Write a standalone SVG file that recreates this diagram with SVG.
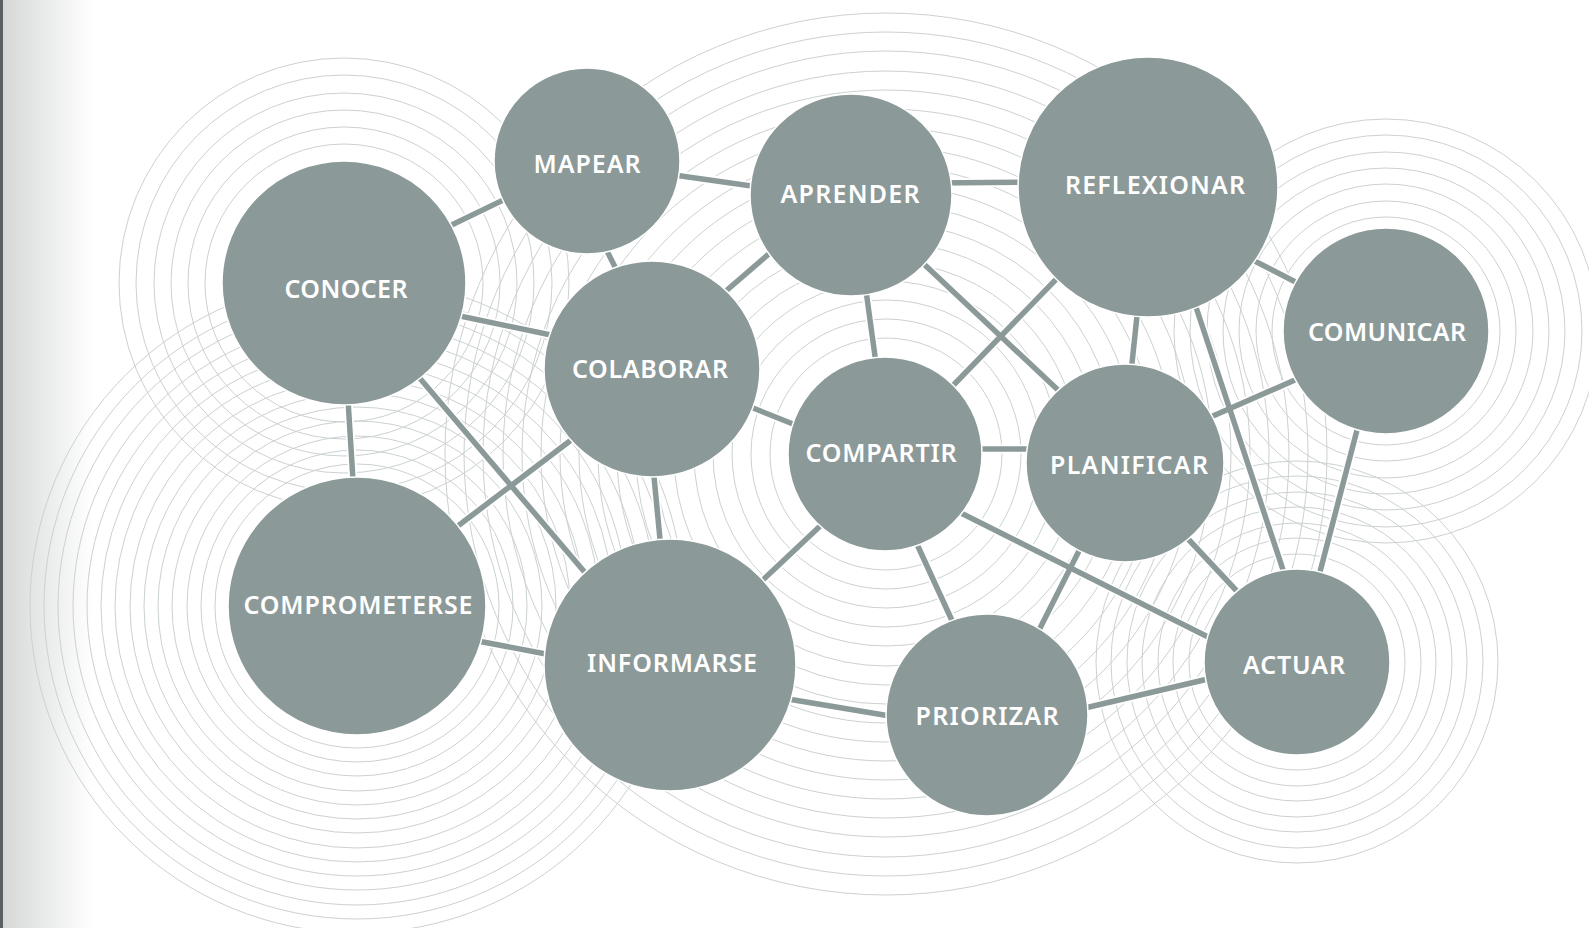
<svg xmlns="http://www.w3.org/2000/svg" width="1589" height="928" viewBox="0 0 1589 928">
<defs>
<linearGradient id="edge" x1="0" y1="0" x2="1" y2="0">
<stop offset="0" stop-color="#d6d8d8"/>
<stop offset="1" stop-color="#ffffff"/>
</linearGradient>
<style>
.ring{fill:none;stroke:#ccd1d1;stroke-width:1}
.case{stroke:#ffffff;stroke-width:9;stroke-linecap:butt}
.edge{stroke:#8c9999;stroke-width:5.5;stroke-linecap:butt}
.node circle{fill:#8c9999;stroke:#ffffff;stroke-width:1.5}
.node text{fill:#ffffff;font-family:"Noto Sans","Open Sans","Liberation Sans",sans-serif;font-weight:600;font-size:25px;text-anchor:middle}
</style>
</defs>
<rect x="0" y="0" width="1589" height="928" fill="#ffffff"/>
<rect x="3" y="0" width="90" height="928" fill="url(#edge)"/>
<rect x="0" y="0" width="3" height="928" fill="#5b6063"/>

<g id="rings">
<g id="rings-conocer">
<circle class="ring" cx="344" cy="283" r="139"/><circle class="ring" cx="344" cy="283" r="156"/><circle class="ring" cx="344" cy="283" r="173"/><circle class="ring" cx="344" cy="283" r="190"/><circle class="ring" cx="344" cy="283" r="208"/><circle class="ring" cx="344" cy="283" r="225"/>
</g>
<g id="rings-comprometerse">
<circle class="ring" cx="357" cy="606" r="142"/><circle class="ring" cx="357" cy="606" r="156"/><circle class="ring" cx="357" cy="606" r="170"/><circle class="ring" cx="357" cy="606" r="185"/><circle class="ring" cx="357" cy="606" r="199"/><circle class="ring" cx="357" cy="606" r="213"/><circle class="ring" cx="357" cy="606" r="227"/><circle class="ring" cx="357" cy="606" r="242"/><circle class="ring" cx="357" cy="606" r="256"/><circle class="ring" cx="357" cy="606" r="270"/><circle class="ring" cx="357" cy="606" r="284"/><circle class="ring" cx="357" cy="606" r="299"/><circle class="ring" cx="357" cy="606" r="313"/><circle class="ring" cx="357" cy="606" r="327"/>
</g>
<g id="rings-compartir">
<circle class="ring" cx="886" cy="454" r="116"/><circle class="ring" cx="886" cy="454" r="135"/><circle class="ring" cx="886" cy="454" r="154"/><circle class="ring" cx="886" cy="454" r="173"/><circle class="ring" cx="886" cy="454" r="192"/><circle class="ring" cx="886" cy="454" r="212"/><circle class="ring" cx="886" cy="454" r="231"/><circle class="ring" cx="886" cy="454" r="250"/><circle class="ring" cx="886" cy="454" r="269"/><circle class="ring" cx="886" cy="454" r="288"/><circle class="ring" cx="886" cy="454" r="307"/><circle class="ring" cx="886" cy="454" r="326"/><circle class="ring" cx="886" cy="454" r="345"/><circle class="ring" cx="886" cy="454" r="364"/><circle class="ring" cx="886" cy="454" r="383"/><circle class="ring" cx="886" cy="454" r="403"/><circle class="ring" cx="886" cy="454" r="422"/><circle class="ring" cx="886" cy="454" r="441"/>
</g>
<g id="rings-comunicar">
<circle class="ring" cx="1386" cy="331" r="114"/><circle class="ring" cx="1386" cy="331" r="130"/><circle class="ring" cx="1386" cy="331" r="147"/><circle class="ring" cx="1386" cy="331" r="163"/><circle class="ring" cx="1386" cy="331" r="179"/><circle class="ring" cx="1386" cy="331" r="196"/><circle class="ring" cx="1386" cy="331" r="212"/>
</g>
<g id="rings-actuar">
<circle class="ring" cx="1297" cy="662" r="108"/><circle class="ring" cx="1297" cy="662" r="124"/><circle class="ring" cx="1297" cy="662" r="139"/><circle class="ring" cx="1297" cy="662" r="155"/><circle class="ring" cx="1297" cy="662" r="170"/><circle class="ring" cx="1297" cy="662" r="186"/><circle class="ring" cx="1297" cy="662" r="201"/>
</g>
</g>

<g id="connectors">
<g id="casings">
<line class="case" x1="433" y1="234" x2="522" y2="191"/>
<line class="case" x1="660" y1="173" x2="773" y2="189"/>
<line class="case" x1="599" y1="235" x2="624" y2="285"/>
<line class="case" x1="933" y1="183" x2="1039" y2="182"/>
<line class="case" x1="712" y1="303" x2="785" y2="240"/>
<line class="case" x1="864" y1="276" x2="878" y2="378"/>
<line class="case" x1="910" y1="251" x2="1074" y2="405"/>
<line class="case" x1="1068" y1="267" x2="940" y2="399"/>
<line class="case" x1="1139" y1="297" x2="1130" y2="382"/>
<line class="case" x1="1239" y1="253" x2="1313" y2="291"/>
<line class="case" x1="1189" y1="286" x2="1291" y2="594"/>
<line class="case" x1="441" y1="312" x2="570" y2="339"/>
<line class="case" x1="347" y1="384" x2="354" y2="496"/>
<line class="case" x1="406" y1="362" x2="599" y2="589"/>
<line class="case" x1="583" y1="431" x2="446" y2="535"/>
<line class="case" x1="733" y1="400" x2="813" y2="432"/>
<line class="case" x1="652" y1="456" x2="662" y2="560"/>
<line class="case" x1="963" y1="449" x2="1047" y2="449"/>
<line class="case" x1="834" y1="513" x2="748" y2="594"/>
<line class="case" x1="910" y1="529" x2="960" y2="638"/>
<line class="case" x1="945" y1="505" x2="1226" y2="646"/>
<line class="case" x1="1197" y1="423" x2="1313" y2="372"/>
<line class="case" x1="1087" y1="535" x2="1031" y2="646"/>
<line class="case" x1="1175" y1="525" x2="1248" y2="603"/>
<line class="case" x1="1362" y1="411" x2="1315" y2="591"/>
<line class="case" x1="462" y1="638" x2="567" y2="658"/>
<line class="case" x1="770" y1="696" x2="908" y2="719"/>
<line class="case" x1="1068" y1="712" x2="1225" y2="675"/>
</g>
<g id="edges">
<line class="edge" x1="433" y1="234" x2="522" y2="191"/>
<line class="edge" x1="660" y1="173" x2="773" y2="189"/>
<line class="edge" x1="599" y1="235" x2="624" y2="285"/>
<line class="edge" x1="933" y1="183" x2="1039" y2="182"/>
<line class="edge" x1="712" y1="303" x2="785" y2="240"/>
<line class="edge" x1="864" y1="276" x2="878" y2="378"/>
<line class="edge" x1="910" y1="251" x2="1074" y2="405"/>
<line class="edge" x1="1068" y1="267" x2="940" y2="399"/>
<line class="edge" x1="1139" y1="297" x2="1130" y2="382"/>
<line class="edge" x1="1239" y1="253" x2="1313" y2="291"/>
<line class="edge" x1="1189" y1="286" x2="1291" y2="594"/>
<line class="edge" x1="441" y1="312" x2="570" y2="339"/>
<line class="edge" x1="347" y1="384" x2="354" y2="496"/>
<line class="edge" x1="406" y1="362" x2="599" y2="589"/>
<line class="edge" x1="583" y1="431" x2="446" y2="535"/>
<line class="edge" x1="733" y1="400" x2="813" y2="432"/>
<line class="edge" x1="652" y1="456" x2="662" y2="560"/>
<line class="edge" x1="963" y1="449" x2="1047" y2="449"/>
<line class="edge" x1="834" y1="513" x2="748" y2="594"/>
<line class="edge" x1="910" y1="529" x2="960" y2="638"/>
<line class="edge" x1="945" y1="505" x2="1226" y2="646"/>
<line class="edge" x1="1197" y1="423" x2="1313" y2="372"/>
<line class="edge" x1="1087" y1="535" x2="1031" y2="646"/>
<line class="edge" x1="1175" y1="525" x2="1248" y2="603"/>
<line class="edge" x1="1362" y1="411" x2="1315" y2="591"/>
<line class="edge" x1="462" y1="638" x2="567" y2="658"/>
<line class="edge" x1="770" y1="696" x2="908" y2="719"/>
<line class="edge" x1="1068" y1="712" x2="1225" y2="675"/>
</g>
</g>

<g id="node-mapear" class="node"><circle cx="587" cy="161" r="93"/><text x="587" y="173" textLength="107" lengthAdjust="spacing">MAPEAR</text></g>
<g id="node-aprender" class="node"><circle cx="851" cy="195" r="101"/><text x="850" y="203" textLength="139" lengthAdjust="spacing">APRENDER</text></g>
<g id="node-reflexionar" class="node"><circle cx="1148" cy="187" r="130"/><text x="1155" y="194" textLength="180" lengthAdjust="spacing">REFLEXIONAR</text></g>
<g id="node-conocer" class="node"><circle cx="344" cy="283" r="122"/><text x="346" y="298" textLength="123" lengthAdjust="spacing">CONOCER</text></g>
<g id="node-colaborar" class="node"><circle cx="652" cy="369" r="108"/><text x="650" y="378" textLength="156" lengthAdjust="spacing">COLABORAR</text></g>
<g id="node-comunicar" class="node"><circle cx="1386" cy="331" r="103"/><text x="1387" y="341" textLength="158" lengthAdjust="spacing">COMUNICAR</text></g>
<g id="node-compartir" class="node"><circle cx="885" cy="454" r="97"/><text x="881" y="462" textLength="151" lengthAdjust="spacing">COMPARTIR</text></g>
<g id="node-planificar" class="node"><circle cx="1125" cy="463" r="99"/><text x="1129" y="474" textLength="158" lengthAdjust="spacing">PLANIFICAR</text></g>
<g id="node-comprometerse" class="node"><circle cx="357" cy="606" r="129"/><text x="358" y="614" textLength="229" lengthAdjust="spacing">COMPROMETERSE</text></g>
<g id="node-informarse" class="node"><circle cx="670" cy="665" r="126"/><text x="672" y="672" textLength="170" lengthAdjust="spacing">INFORMARSE</text></g>
<g id="node-priorizar" class="node"><circle cx="987" cy="715" r="101"/><text x="987" y="725" textLength="143" lengthAdjust="spacing">PRIORIZAR</text></g>
<g id="node-actuar" class="node"><circle cx="1297" cy="662" r="93"/><text x="1294" y="674" textLength="102" lengthAdjust="spacing">ACTUAR</text></g>
</svg>
